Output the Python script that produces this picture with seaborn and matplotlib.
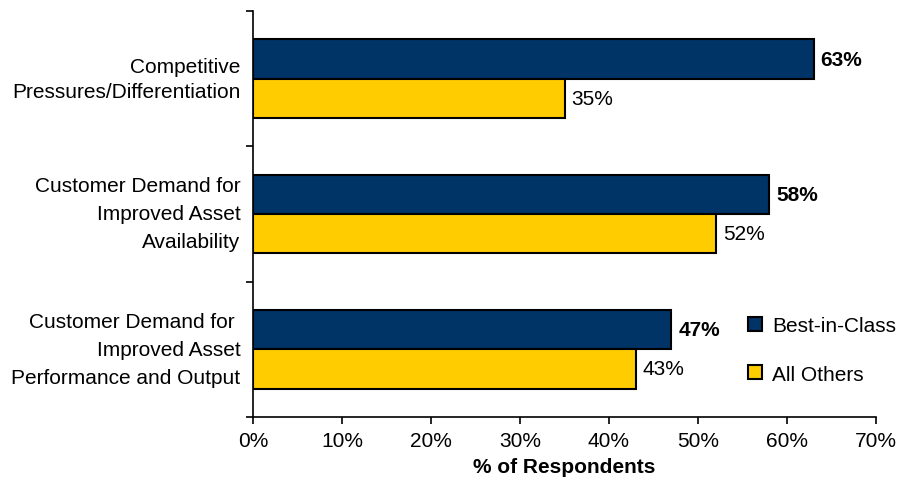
import matplotlib
matplotlib.use("Agg")
import matplotlib.pyplot as plt
import seaborn as sns
import pandas as pd
from matplotlib.patches import Patch

categories = ["Competitive\nPressures/Differentiation",
              "Customer Demand for\nImproved Asset\nAvailability",
              "Customer Demand for \nImproved Asset\nPerformance and Output"]
series_names = ["Best-in-Class", "All Others"]
best_in_class = [63, 58, 47]
all_others = [35, 52, 43]
x_ticks = [0, 10, 20, 30, 40, 50, 60, 70]
colors = ["#003366", "#FFCC00"]

sns.set_theme(style="white")
plt.rcParams['font.family'] = ['Liberation Sans', 'DejaVu Sans']
plt.rcParams['text.color'] = 'black'
plt.rcParams['axes.labelcolor'] = 'black'
plt.rcParams['xtick.color'] = 'black'
plt.rcParams['ytick.color'] = 'black'

FS = 15

df = pd.DataFrame({
    "Category": categories * 2,
    "Value": best_in_class + all_others,
    "Series": [series_names[0]] * 3 + [series_names[1]] * 3,
})

fig = plt.figure(figsize=(8.99, 4.85), dpi=100)
ax = fig.add_axes([253/899, 1 - 418/485, (876-253)/899, (418-12)/485])

sns.barplot(data=df, y="Category", x="Value", hue="Series", orient="h",
            palette=colors, width=0.58, edgecolor="black", linewidth=1.5,
            ax=ax, legend=False, saturation=1)

ax.set_xlim(0, 70)
ax.set_ylim(2.5, -0.5)
ax.set_xticks(x_ticks)
ax.set_xticklabels([f"{t}%" for t in x_ticks], fontsize=FS)
ax.set_xlabel("% of Respondents", fontsize=FS, fontweight="bold", labelpad=5)
ax.set_ylabel("")
ax.set_yticks([0, 1, 2])
ylabels = ax.set_yticklabels(categories, fontsize=FS, ha="right", va="center")
ylabels[0].set_linespacing(1.4)
ylabels[1].set_linespacing(1.6)
ylabels[2].set_linespacing(1.6)
for lab in ylabels[1:]:
    lab.set_y(lab.get_position()[1])
ax.tick_params(axis="y", length=0, pad=9)
ax.set_yticks([-0.5, 0.5, 1.5, 2.5], minor=True)
ax.tick_params(axis="y", which="minor", length=5, width=1.2, color="black", direction="out", left=True)
ax.tick_params(axis="x", length=5, width=1.2, color="black", direction="out", bottom=True, pad=5)

for s in ["top", "right"]:
    ax.spines[s].set_visible(False)
for s in ["left", "bottom"]:
    ax.spines[s].set_color("black")
    ax.spines[s].set_linewidth(1.2)

for i, cont in enumerate(ax.containers):
    weight = "bold" if i == 0 else "normal"
    ax.bar_label(cont, labels=[f"{v:.0f}%" for v in cont.datavalues],
                 padding=5, fontsize=FS, fontweight=weight, color="black")

handles = [Patch(facecolor=c, edgecolor="black", linewidth=1.5) for c in colors]
ax.legend(handles, series_names, loc="center left", bbox_to_anchor=(0.795, 0.165),
          frameon=False, fontsize=FS, handlelength=0.65, handleheight=0.65,
          labelspacing=1.4, handletextpad=0.5, borderpad=0, borderaxespad=0)

fig.savefig("out.png", dpi=100)
